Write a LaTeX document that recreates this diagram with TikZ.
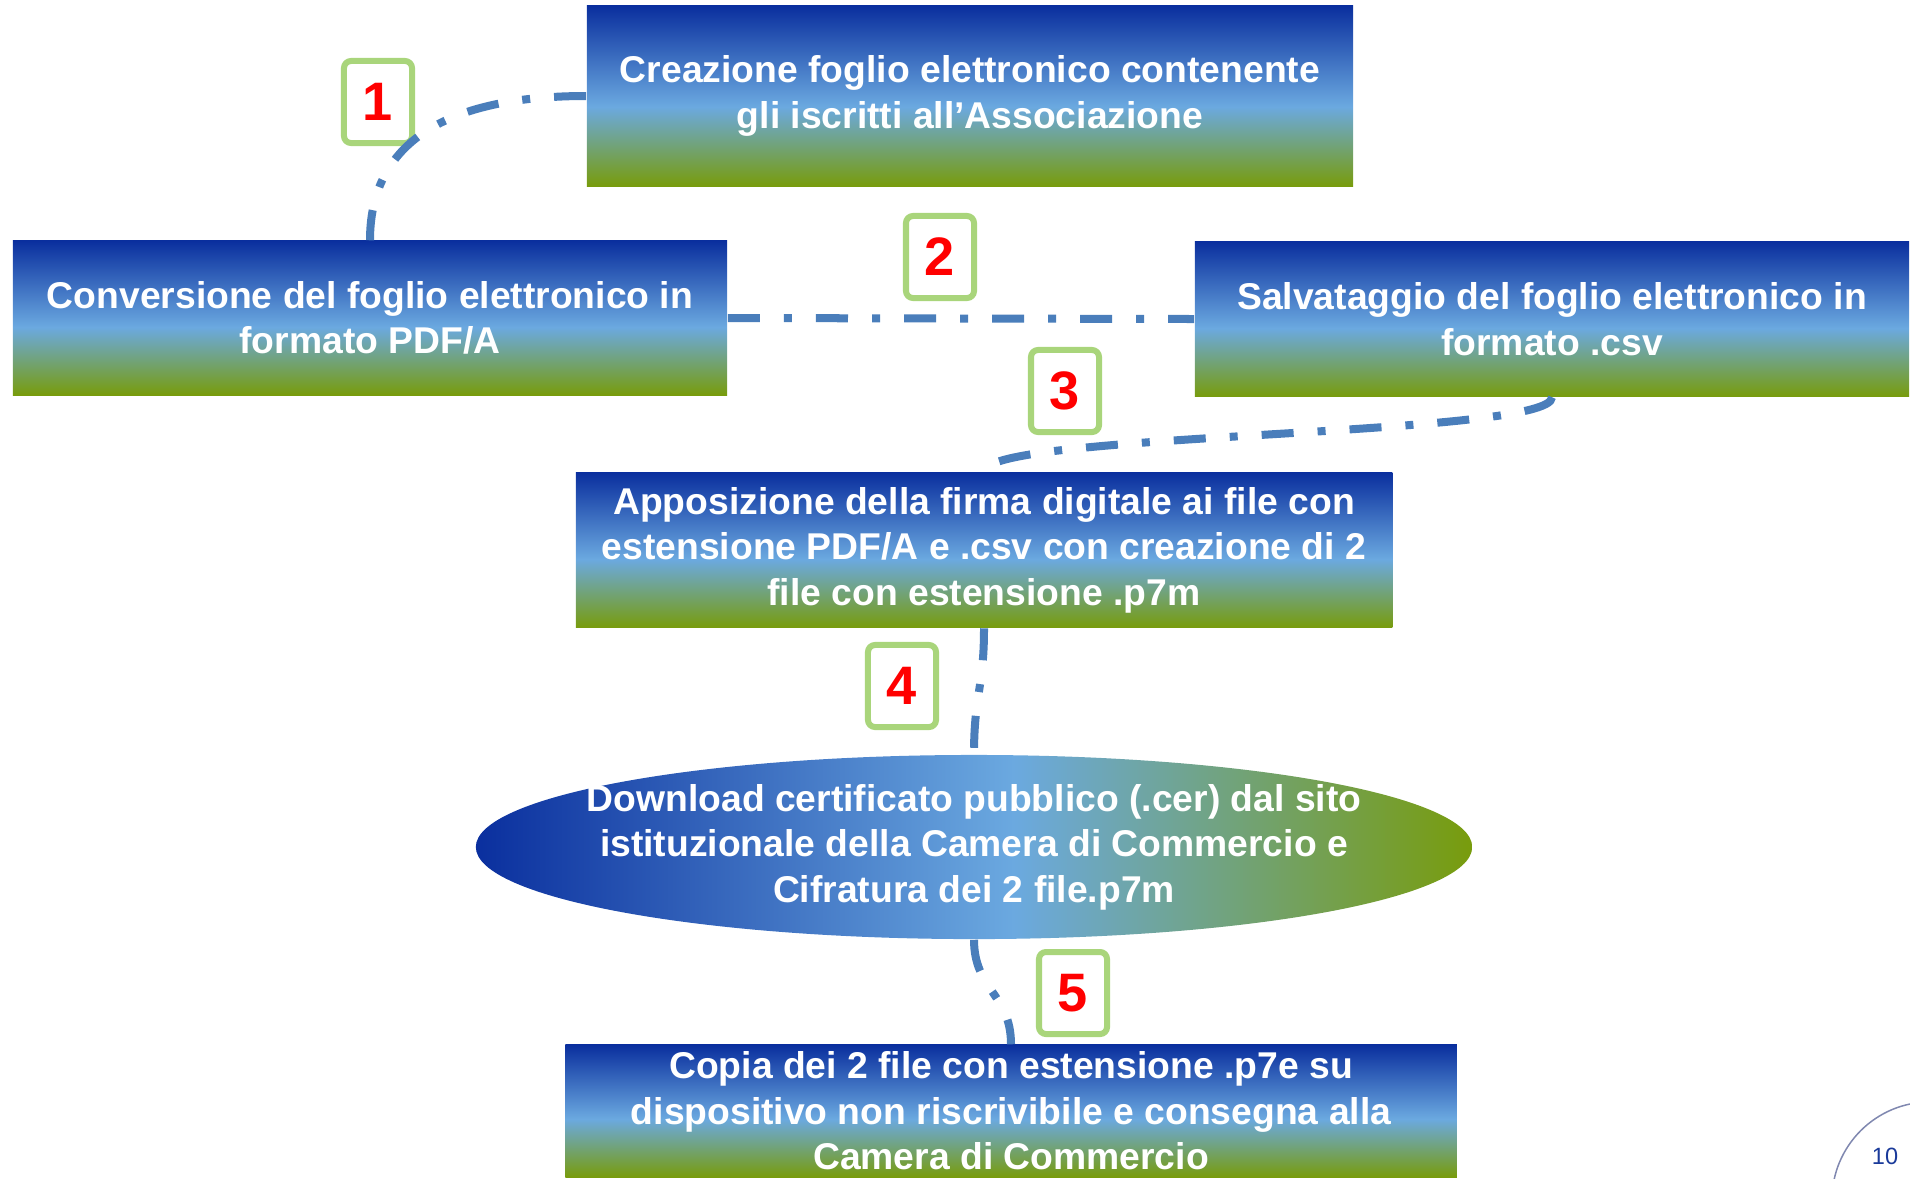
\documentclass[tikz,border=0pt]{standalone}
\usepackage{fontspec}
\setmainfont{Liberation Sans}
\usepackage{tikz}
\usetikzlibrary{shapes.geometric}

\definecolor{deepblue}{HTML}{0A2F9E}
\definecolor{skyblue}{HTML}{6BA9E0}
\definecolor{oliva}{HTML}{789C0C}
\definecolor{linkblue}{HTML}{4A7EBB}
\definecolor{numgreen}{HTML}{A9D57B}
\definecolor{pageblue}{HTML}{1A3A9A}
\definecolor{arcgrey}{HTML}{8088B0}

\pgfdeclareverticalshading{boxfill}{100bp}{color(0bp)=(oliva); color(25bp)=(oliva); color(47bp)=(skyblue); color(75bp)=(deepblue); color(100bp)=(deepblue)}
\pgfdeclarehorizontalshading{ovalfill}{100bp}{color(0bp)=(deepblue); color(25bp)=(deepblue); color(52bp)=(skyblue); color(75bp)=(oliva); color(100bp)=(oliva)}

\begin{document}
\begin{tikzpicture}[x=0.01cm, y=-0.01cm, main/.style={rectangle, shading=boxfill, text=white, align=center, inner sep=0pt, font=\bfseries\fontsize{10.6}{12.9}\selectfont}, oval/.style={ellipse, shading=ovalfill, text=white, align=center, inner xsep=-0.35cm, inner ysep=0pt, font=\bfseries\fontsize{10.6}{12.9}\selectfont}, num/.style={rectangle, rounded corners=2, draw=numgreen, fill=white, line width=0.06cm, minimum width=0.68cm, minimum height=0.82cm, inner sep=0pt, text=red, font=\bfseries\fontsize{15.4}{16}\selectfont}, d/.style={linkblue, line width=0.08cm, dash pattern=on 0.32cm off 0.24cm on 0.08cm off 0.24cm}]
            \useasboundingbox (0,0) rectangle (1910,1178);
            \clip (0,0) rectangle (1910,1178);
            % nodes
            \node[main, minimum width=7.66cm, minimum height=1.80cm] (creazione) at (970,96) {Creazione foglio elettronico contenente\\gli iscritti all’Associazione};
            \node[main, minimum width=7.14cm, minimum height=1.54cm] (conversione) at (370,318) {Conversione del foglio elettronico in\\formato PDF/A};
            \node[main, minimum width=7.14cm, minimum height=1.55cm] (salvataggio) at (1552,319) {Salvataggio del foglio elettronico in\\formato .csv};
            \node[main, minimum width=8.16cm, minimum height=1.55cm] (firma) at (984,550) {Apposizione della firma digitale ai file con\\estensione PDF/A e .csv con creazione di 2\\file con estensione .p7m};
            \node[oval, minimum width=9.93cm, minimum height=1.84cm] (cifratura) at (974,847) {Download certificato pubblico (.cer) dal sito\\istituzionale della Camera di Commercio e\\Cifratura dei 2 file.p7m};
            \node[main, minimum width=8.91cm, minimum height=1.32cm] (copia) at (1011,1111) {Copia dei 2 file con estensione .p7e su\\dispositivo non riscrivibile e consegna alla\\Camera di Commercio};
            \node[num] (n1) at (378,102) {1};
            \node[num] (n2) at (940,257) {2};
            \node[num] (n3) at (1065,391) {3};
            \node[num] (n4) at (902,686) {4};
            \node[num] (n5) at (1073,993) {5};
            \node[text=pageblue, font=\fontsize{6.7}{8}\selectfont] (pagina) at (1885,1156) {10};
            \draw[arcgrey, line width=0.015cm] (1930,1200) circle[radius=0.98cm];
            % edges
            \draw [d] (creazione.west) .. controls +(-120,0) and +(0,-110) .. (conversione.north);
            \draw [d] (conversione.east) -- (salvataggio.west);
            \draw [d] (salvataggio.south) .. controls +(0,40) and +(0,-40) .. (firma.north);
            \draw [d] (firma.south) .. controls +(0,60) and +(0,-60) .. (cifratura.north);
            \draw [d] (cifratura.south) .. controls +(0,50) and +(0,-50) .. (copia.north);
        \end{tikzpicture}
\end{document}
